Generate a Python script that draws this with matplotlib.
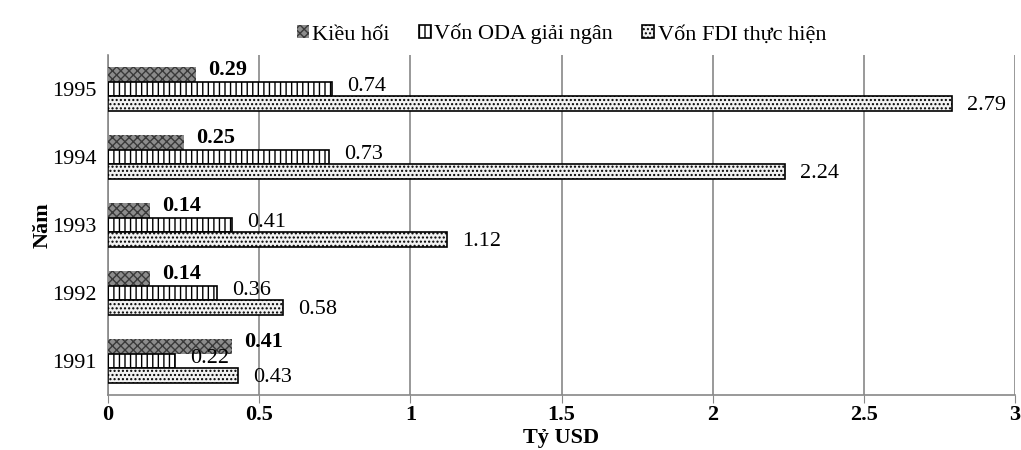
import matplotlib.pyplot as plt
import numpy as np

plt.rcParams['font.family'] = ['Liberation Serif', 'DejaVu Serif']
plt.rcParams['hatch.linewidth'] = 1.0

years = ['1991', '1992', '1993', '1994', '1995']
kieu_hoi = [0.41, 0.14, 0.14, 0.25, 0.29]
oda = [0.22, 0.36, 0.41, 0.73, 0.74]
fdi = [0.43, 0.58, 1.12, 2.24, 2.79]
xticks = [0, 0.5, 1, 1.5, 2, 2.5, 3]
xtick_labels = ['0', '0.5', '1', '1.5', '2', '2.5', '3']

fig = plt.figure(figsize=(10.21, 4.5), dpi=100)
ax = fig.add_axes([108 / 1021, 55 / 450, 907 / 1021, 340 / 450])

y = np.arange(len(years))
h = 0.22
fs = 16

ax.barh(y + h, kieu_hoi, height=h, color='#8c8c8c', edgecolor='#3a3a3a',
        hatch='xxxx', linewidth=0, label='Kiều hối', zorder=3)
ax.barh(y, oda, height=h, color='white', edgecolor='black',
        hatch='|||', linewidth=1.2, label='Vốn ODA giải ngân', zorder=3)
ax.barh(y - h, fdi, height=h, color='#f2f2f2', edgecolor='black',
        hatch='....', linewidth=1.2, label='Vốn FDI thực hiện', zorder=3)

for yy, v in zip(y, kieu_hoi):
    ax.text(v + 0.04, yy + h + 0.06, f'{v:.2f}', va='center', ha='left',
            fontsize=fs, fontweight='bold')
for yy, v in zip(y, oda):
    ax.text(v + 0.05, yy + 0.04, f'{v:.2f}', va='center', ha='left', fontsize=fs)
for yy, v in zip(y, fdi):
    ax.text(v + 0.05, yy - h - 0.02, f'{v:.2f}', va='center', ha='left', fontsize=fs)

ax.set_xlim(0, 3)
ax.set_ylim(-0.5, 4.5)
ax.set_xticks(xticks)
ax.set_xticklabels(xtick_labels, fontweight='bold', fontsize=fs)
ax.set_yticks(y)
ax.set_yticklabels(years, fontsize=fs)
ax.tick_params(axis='y', length=0, pad=8)
ax.tick_params(axis='x', length=6, color='#888888', direction='out', pad=1)
ax.grid(axis='x', color='#888888', linewidth=1.2, zorder=0)

for s in ['top', 'right']:
    ax.spines[s].set_visible(False)
for s in ['left', 'bottom']:
    ax.spines[s].set_color('#888888')
    ax.spines[s].set_linewidth(1.2)

ax.set_xlabel('Tỷ USD', fontweight='bold', fontsize=fs, labelpad=2)
ax.set_ylabel('Năm', fontweight='bold', fontsize=fs, labelpad=0)

ax.legend(loc='upper center', bbox_to_anchor=(0.5, 1.15), ncol=3, frameon=False,
          fontsize=fs, handlelength=0.55, handleheight=0.55, handletextpad=0.15,
          columnspacing=1.3)

fig.savefig('out.png', dpi=100)
